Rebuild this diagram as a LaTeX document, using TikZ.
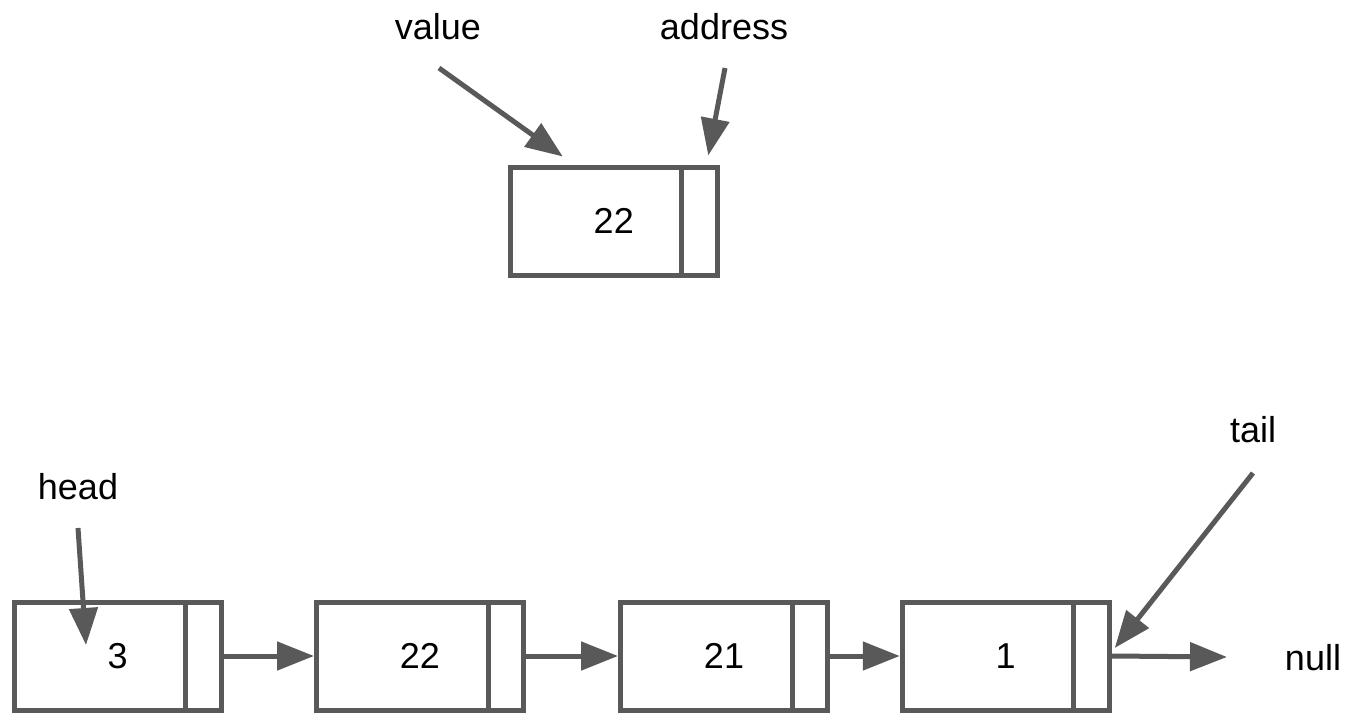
\documentclass[tikz,border=0pt]{standalone}
\usepackage{fontspec}
\setmainfont{Liberation Sans}
\usetikzlibrary{arrows.meta}
\definecolor{linegray}{HTML}{595959}
\tikzset{
  cell/.style={draw=linegray, line width=2.5pt, rectangle, inner sep=0pt,
    minimum width=103.5pt, minimum height=54pt, font=\fontsize{18pt}{20pt}\selectfont},
  lbl/.style={inner sep=0pt, font=\fontsize{18pt}{20pt}\selectfont},
  link/.style={draw=linegray, line width=2.5pt,
    -{Triangle[length=18.5pt,width=14pt]}}
}
% divider between the value part and the address part of a cell
\newcommand{\splitcell}[1]{%
  \draw[linegray, line width=2.5pt] ([xshift=-19pt]#1.north east) -- ([xshift=-19pt]#1.south east);}
\begin{document}
\begin{tikzpicture}[x=0.5pt,y=-0.5pt]
\useasboundingbox (0,0) rectangle (1350,713);

% single cell with its labels
\node[cell] (top) at (613.75,221) {22};
\splitcell{top}
\node[lbl] (value) at (438,27) {value};
\node[lbl] (address) at (724,27) {address};
\coordinate (valuefrom) at (439,68);
\coordinate (addressfrom) at (725,68);
\draw[link] (valuefrom) -- ([shift={(-51,-8)}]top.north);
\draw[link] (addressfrom) -- ([shift={(-11.5,-9)}]top.north east);

% the list
\node[cell] (b1) at (117.75,656) {3};
\node[cell] (b2) at (420,656) {22};
\node[cell] (b3) at (724,656) {21};
\node[cell] (b4) at (1005.75,656) {1};
\splitcell{b1}
\splitcell{b2}
\splitcell{b3}
\splitcell{b4}

\draw[link] (b1.east) -- (b2.west);
\draw[link] (b2.east) -- (b3.west);
\draw[link] (b3.east) -- (b4.west);

\node[lbl] (null) at (1313,658) {null};
\coordinate (nullend) at (1227,657);
\draw[link] (b4.east) -- (nullend);

\node[lbl] (head) at (78,487) {head};
\coordinate (headfrom) at (78,528);
\draw[link] (headfrom) -- ([shift={(-31.75,-11)}]b1.center);

\node[lbl] (tail) at (1253,430) {tail};
\coordinate (tailfrom) at (1253,473);
\draw[link] (tailfrom) -- ([shift={(3,-8)}]b4.east);
\end{tikzpicture}
\end{document}
